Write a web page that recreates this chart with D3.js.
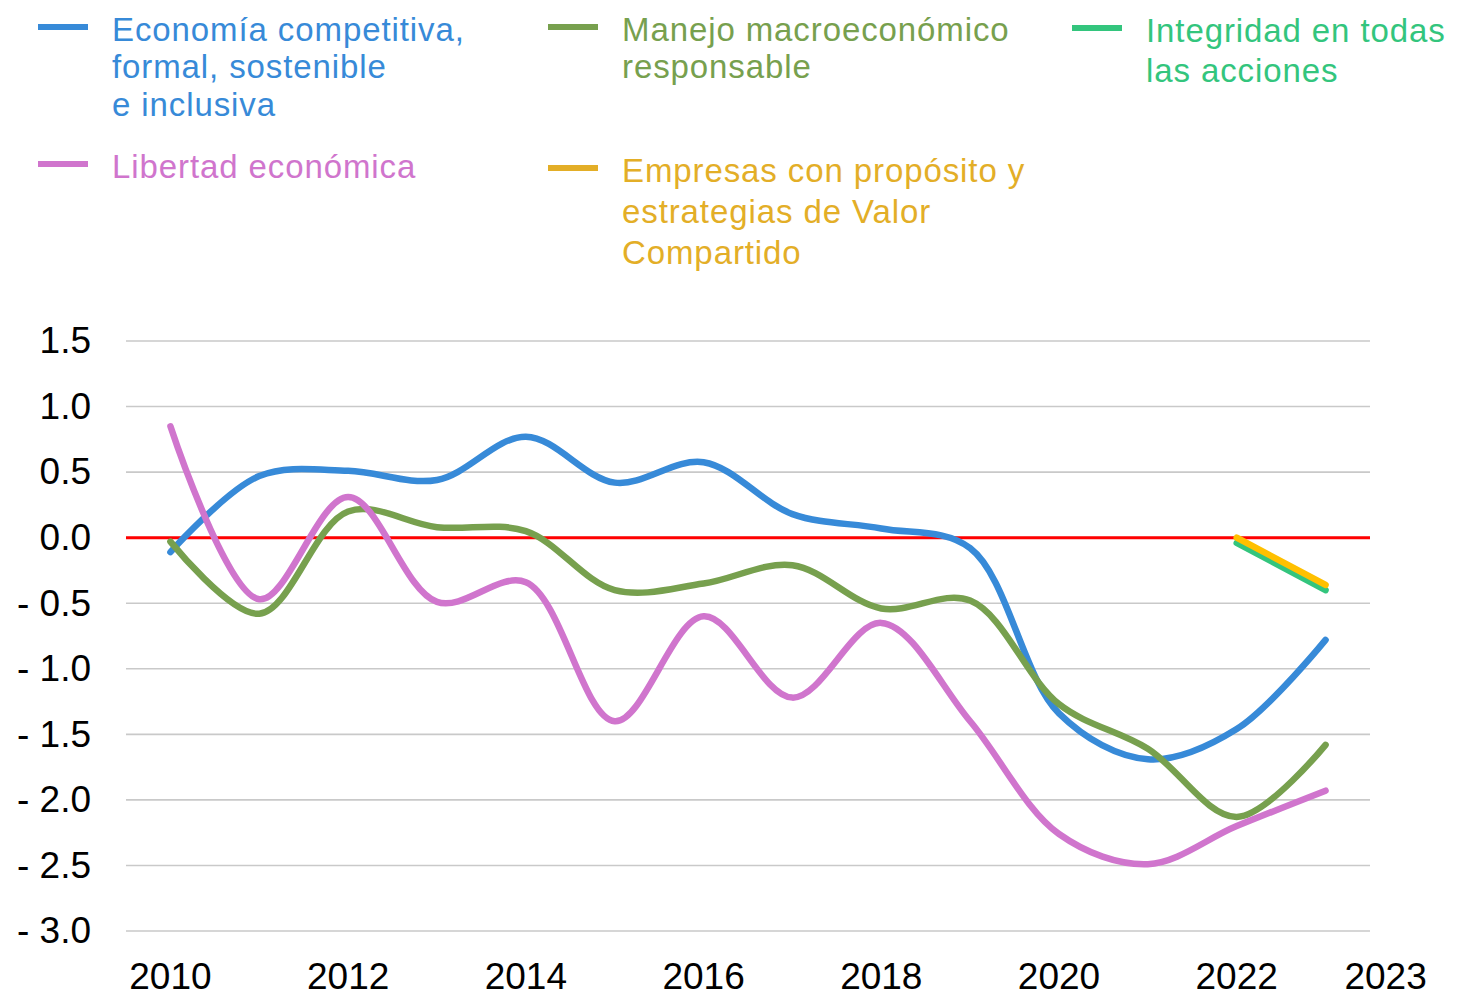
<!DOCTYPE html>
<html><head><meta charset="utf-8">
<script src="https://cdn.jsdelivr.net/npm/d3@7"></script>
<style>body{margin:0;background:#fff;} svg{display:block;font-family:"Liberation Sans",Arial,sans-serif;}</style>
</head><body>
<svg id="c" width="1483" height="997"></svg>
<script>
const years = [2010,2011,2012,2013,2014,2015,2016,2017,2018,2019,2020,2021,2022,2023];
const xTickYears = [2010,2012,2014,2016,2018,2020,2022,2023];
const yTicks = [1.5,1.0,0.5,0.0,-0.5,-1.0,-1.5,-2.0,-2.5,-3.0];
const economia = [-0.11,0.47,0.51,0.44,0.77,0.42,0.575,0.18,0.07,-0.08,-1.34,-1.69,-1.46,-0.78];
const manejo = [-0.03,-0.58,0.2,0.08,0.05,-0.40,-0.35,-0.21,-0.54,-0.48,-1.27,-1.61,-2.13,-1.58];
const libertad = [0.85,-0.47,0.31,-0.49,-0.34,-1.40,-0.60,-1.22,-0.65,-1.40,-2.26,-2.49,-2.20,-1.93];
const empresas = [null,null,null,null,null,null,null,null,null,null,null,null,0.0,-0.36];
const integridad = [null,null,null,null,null,null,null,null,null,null,null,null,-0.04,-0.40];

const series = [
  {name:["Economía competitiva,","formal, sostenible","e inclusiva"], values:economia, color:"#378AD8", text:"#378AD8", lx:38, ly:27, lh:37.5},
  {name:["Manejo macroeconómico","responsable"], values:manejo, color:"#77A04E", text:"#77A04E", lx:548, ly:27, lh:37},
  {name:["Integridad en todas","las acciones"], values:integridad, color:"#33C57D", text:"#33C57D", lx:1072, ly:28, lh:40},
  {name:["Libertad económica"], values:libertad, color:"#D075CD", text:"#D075CD", lx:38, ly:164, lh:38},
  {name:["Empresas con propósito y","estrategias de Valor","Compartido"], values:empresas, color:"#FFC000", text:"#E3AE27", legendColor:"#E3AE27", lx:548, ly:168, lh:41}
];

const svg = d3.select("#c");
const x = d3.scalePoint().domain(years).range([126,1370]).padding(0.5);
const y = d3.scaleLinear().domain([-3,1.5]).range([931,341]);

// gridlines
svg.append("g").selectAll("line").data(yTicks).join("line")
  .attr("x1",126).attr("x2",1370)
  .attr("y1",d=>y(d)).attr("y2",d=>y(d))
  .attr("stroke","#C9C9C9").attr("stroke-width",1.6);

// y labels
const fmt = d3.format(".1f");
svg.append("g").selectAll("text").data(yTicks).join("text")
  .attr("x",91).attr("y",d=>y(d)-1).attr("dy","0.36em")
  .attr("text-anchor","end").attr("font-size",37).attr("fill","#000")
  .text(d=> d<0 ? "- "+fmt(-d) : fmt(d));

// x labels
svg.append("g").selectAll("text").data(xTickYears).join("text")
  .attr("x",d=> x(d) + (d===2023 ? 60 : 0)).attr("y",976).attr("dy","0.36em")
  .attr("text-anchor","middle").attr("font-size",37).attr("fill","#000")
  .text(d=>d);

// zero line
svg.append("line").attr("x1",126).attr("x2",1370).attr("y1",y(0)).attr("y2",y(0))
  .attr("stroke","#FF0000").attr("stroke-width",3);

const line = d3.line()
  .defined(d=>d.v!==null)
  .x(d=>x(d.year)).y(d=>y(d.v))
  .curve(d3.curveCatmullRom.alpha(0.5));

const drawOrder = [0,1,3,2,4];
drawOrder.forEach(i=>{
  const s = series[i];
  svg.append("path")
    .datum(years.map((yr,k)=>({year:yr,v:s.values[k]})))
    .attr("d",line).attr("fill","none")
    .attr("stroke",s.color).attr("stroke-width",6.5)
    .attr("stroke-linecap","round").attr("stroke-linejoin","round");
});

// legend
series.forEach(s=>{
  const g = svg.append("g");
  g.append("line").attr("x1",s.lx).attr("x2",s.lx+50).attr("y1",s.ly).attr("y2",s.ly)
    .attr("stroke",s.legendColor||s.color).attr("stroke-width",6);
  s.name.forEach((t,k)=>{
    g.append("text").attr("x",s.lx+74).attr("y",s.ly+2+k*s.lh).attr("dy","0.36em")
      .attr("font-size",33).attr("letter-spacing",0.9).attr("fill",s.text).text(t);
  });
});
</script>
</body></html>
